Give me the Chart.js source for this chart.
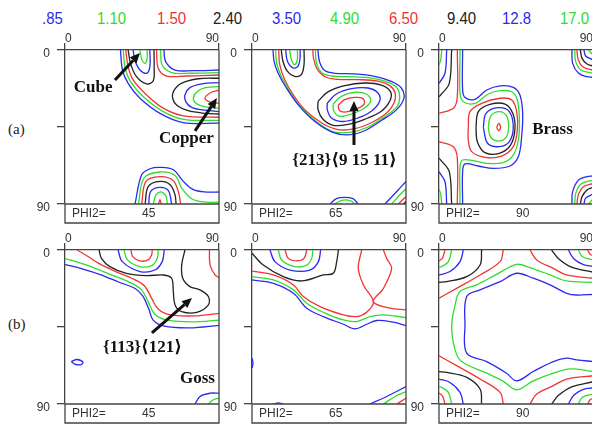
<!DOCTYPE html>
<html>
<head>
<meta charset="utf-8">
<script src="https://cdn.jsdelivr.net/npm/chart.js@4.4.1/dist/chart.umd.min.js"></script>
<style>
  body { margin: 0; background: #fff; }
  #fig { position: relative; width: 592px; height: 425px; overflow: hidden; background: #fff; font-family: "Liberation Sans", Arial, sans-serif; }
  #fig canvas { position: absolute; }
  .lev { position: absolute; top: 10px; font-size: 17px; line-height: 17px; transform: scaleX(0.88); transform-origin: left top; white-space: nowrap; }
  .row { position: absolute; left: 8px; font: 15px/15px "Liberation Serif", serif; color: #222; }
</style>
</head>
<body>
<div id="fig"></div>
<script>
const levels = ['.85', '1.10', '1.50', '2.40', '3.50', '4.90', '6.50', '9.40', '12.8', '17.0'];
const levelColors = ['b', 'g', 'r', 'k', 'b', 'g', 'r', 'k', 'b', 'g'];
const phi2 = [45, 65, 90];
const rows = ['(a)', '(b)'];

// contour lines per section: [colour, [[phi1, PHI], ...]]
const sec45a = [
  ['b', [[32.4,0],[33.6,11.7],[36.9,19.5],[43.8,28.2],[55.5,37],[69.1,42.4],[90,42.8]]],
  ['g', [[34,0],[35.2,10.7],[38.3,18.5],[45.7,27.2],[56.4,35.4],[69.1,40.5],[90,41.2]]],
  ['r', [[35.5,0],[36.9,9.7],[39.8,17.5],[47.7,26.3],[57.4,34],[69.1,38.5],[90,39.3]]],
  ['b', [[57.8,0],[58.8,6.8],[64.3,11.7],[75,12.1],[90,11.7]]],
  ['g', [[55.9,0],[56.8,8.8],[62.3,13.2],[73,13.6],[90,13.2]]],
  ['r', [[53.5,0],[54.5,10.7],[59.4,15.2],[71.1,15.2],[90,14.6]]],
  ['k', [[90,16.5],[78,16.8],[68,19.5],[63.5,24],[63,28.5],[65.5,32.5],[72,35.5],[82,37],[90,37.4]]],
  ['b', [[90,19.1],[80,19.8],[73,22],[70.2,26],[70.5,30],[74,33.5],[82,35.2],[90,36]]],
  ['g', [[90,21.4],[82,22],[77,24.5],[75,28.2],[77,31.5],[82,33.3],[90,34]]],
  ['r', [[90,23.5],[85,25],[81.8,28.2],[85,30.5],[90,31.1]]],
  ['k', [[36.9,0],[38.3,7.8],[41.8,15.6],[47.7,19.8],[51.6,18],[52.1,9.7],[52,0]]],
  ['b', [[39.8,0],[40.8,5.8],[43.8,11.7],[47.7,13.6],[49.6,9.7],[49.6,0]]],
  ['g', [[43.8,0],[44.7,4.9],[46.7,7.8],[48,4.9],[48,0]]],
  ['b', [[40.9,90],[44.8,72.9],[49.7,69.4],[55.5,68.6],[63.3,70],[69.2,76.8],[75,81.6],[82.8,83],[90,83]]],
  ['g', [[42.9,90],[46.2,74.8],[55.5,71.3],[64.3,73.3],[68.2,80.7],[74,86.9],[80.8,88.8],[90,89]]],
  ['r', [[44.8,90],[47.3,76.8],[55.5,74],[62.9,76],[66.2,82.6],[67.6,90]]],
  ['k', [[46.8,90],[48.7,79.7],[55.5,76.8],[61.4,78.7],[64.3,84.6],[64.9,90]]],
  ['b', [[48.9,90],[50.1,82.6],[55.5,80.3],[60.4,82.2],[62.3,90]]],
  ['g', [[51.6,90],[53.2,84.6],[56.5,83],[59,85.5],[59.8,90]]],
  ['r', [[54.7,90],[55.5,87.5],[56.3,90]]]
];

const sec65a = [
  ['b', [[12.3,0],[12.9,6.6],[15.2,13.4],[20.1,22.2],[26.9,31.9],[36.6,41.7],[46.4,47.8],[56.1,49.6],[65.8,47.2],[75.6,41.2],[84.4,35],[88.8,28.1],[87.3,22.2],[81.4,18.3],[71.7,15.4],[60,14],[48.3,13.6],[42.5,12],[39.5,7],[38.5,0]]],
  ['g', [[13.8,0],[14.4,7.6],[17.1,15.4],[22,24.2],[28.8,33.9],[38.6,42.7],[48.3,48],[58.1,48],[67.8,45],[77.5,39],[84.9,33],[86.3,27.1],[84.4,21.8],[78.5,18.5],[67.8,16.2],[56.1,15.6],[46.4,15.2],[41,13.5],[37.8,8],[37,0]]],
  ['r', [[15.6,0],[16.2,8.6],[19.1,17.3],[24,26.1],[30.8,34.9],[40.5,42.5],[50.3,46.5],[60,46],[69.7,42.5],[78.5,37],[83,31],[83.6,25],[80.5,20.8],[73.6,18.2],[62,17.3],[50.3,17.2],[43,15.8],[38,11],[36,5],[35.5,0]]],
  ['k', [[17.1,0],[18.1,6.6],[20.7,12.5],[24.9,15.4],[28.8,14.4],[30.4,8.6],[30.4,0]]],
  ['b', [[19.7,0],[20.7,6.6],[24,10.5],[26.9,9.5],[28.1,4.7],[28.1,0]]],
  ['g', [[22,0],[23,5.6],[24.9,8.6],[26.5,5.6],[26.5,0]]],
  ['k', [[38.6,30],[44.4,24.5],[54.2,20.8],[65.8,19.3],[75.6,20.5],[81,24.5],[80.5,30],[75.6,35.8],[65.8,40.5],[56.1,43.5],[47.3,44],[41.5,40.5],[38.6,34.9],[38.6,30]]],
  ['b', [[44,31],[49.3,25.7],[58.1,22.6],[67.8,22.2],[73.6,25.1],[74.6,30],[69.7,35.8],[62,39.7],[53.2,41.8],[46.4,39.7],[44,34.9],[44,31]]],
  ['g', [[47.3,31.6],[52.2,27.1],[60,24.7],[66.8,25.7],[69.4,29.6],[65.8,33.9],[58.1,37.4],[51.2,38.8],[47.9,35.8],[47.3,31.6]]],
  ['r', [[50.3,32.3],[54.2,29],[60,27.7],[64.9,28.4],[65.5,31.6],[61,34.5],[55.1,36.2],[51.2,35.5],[50.3,32.3]]],
  ['b', [[45.6,90],[49.3,86.9],[54.2,86.1],[59,86.9],[62,90]]],
  ['g', [[47.9,90],[53.2,87.7],[58.1,88.3],[60,90]]],
  ['b', [[77.7,90],[84.6,82.7],[90,76.8]]],
  ['g', [[81.6,90],[86.5,84.6],[90,81.1]]],
  ['r', [[85.5,90],[90,85.6]]],
  ['k', [[88.5,90],[90,88.5]]]
];

const sec90a = [
  ['g', [[1.6,0],[1,5.8],[0,8.8]]],
  ['b', [[4.5,0],[3.5,13.6],[0,19.5]]],
  ['k', [[7.4,0],[6,19.5],[1,26.3],[0,27.3]]],
  ['r', [[10.7,0],[10.7,27.3],[8.4,34.1],[0,37]]],
  ['g', [[1.6,90],[1,84.2],[0,81.2]]],
  ['b', [[4.5,90],[3.5,77],[0,71.1]]],
  ['k', [[7.4,90],[6,71.1],[1,64.3],[0,63.3]]],
  ['r', [[10.7,90],[10.7,63.3],[8.4,56.5],[0,53.6]]],
  ['b', [[13.8,0],[13.8,23.4],[15.2,27.7],[21,28.8],[27.9,23.4],[35.7,21],[43.4,21.8],[47.3,26.3],[48.9,37],[48.3,50.7],[46.4,62.3],[41.5,67.8],[31.8,69.2],[23,67.8],[15.2,66.6],[13.8,71.1],[13.8,90]]],
  ['g', [[12.3,0],[12.3,25.3],[14.2,30.2],[21,31.2],[28.8,25.7],[35.7,23.8],[42.5,24.4],[45.8,29.2],[47,40.9],[46.4,52.6],[43.4,61.4],[37.6,65.8],[27.9,66.2],[20.1,64.7],[13.8,64.3],[12.3,68.2],[12.3,90]]],
  ['r', [[17.1,44.8],[18.1,36],[24.9,31.2],[35.7,28.2],[42.5,29.2],[45.4,36],[45.8,46.8],[43.4,56.5],[36.6,62],[26.9,62.7],[19.1,59.4],[17.1,52.6],[17.1,44.8]]],
  ['k', [[21.6,45.2],[23,36],[29.8,31.8],[38.6,31.6],[43.1,37],[44.4,45.8],[41.9,55.5],[35.3,60.4],[26.9,60],[22.4,53.6],[21.6,45.2]]],
  ['b', [[25.9,45.2],[27.5,37],[34.7,33.7],[41.1,36],[43.4,45.2],[41.1,53.6],[35.3,56.5],[28.4,54.5],[25.9,45.2]]],
  ['g', [[28.8,45.2],[30.2,38.6],[35.3,36],[39.5,38.6],[40.7,45.2],[39.2,51],[34.9,53.2],[30.2,51],[28.8,45.2]]],
  ['r', [[33.7,45.2],[34.9,42.9],[36,45.2],[34.9,47.1],[33.7,45.2]]],
  ['b', [[77.7,0],[78.1,7.8],[81.6,13.6],[86.5,15.6],[90,16]]],
  ['g', [[79.3,0],[79.9,6.8],[83,11.7],[90,13.6]]],
  ['r', [[80.6,0],[81.4,5.8],[84.4,10.1],[90,11.7]]],
  ['k', [[82.6,0],[83.6,4.9],[86.5,8.2],[90,9.4]]],
  ['b', [[84.7,0],[85.7,3.5],[90,5.8]]],
  ['g', [[87.3,0],[90,2.9]]],
  ['b', [[77.7,90],[78.1,82.8],[81.6,75.9],[86.5,74],[90,73.6]]],
  ['g', [[79.3,90],[79.9,83.8],[83,78.3],[90,76]]],
  ['r', [[80.6,90],[81.4,84.8],[84.4,79.9],[90,78]]],
  ['k', [[82.6,90],[83.6,85.7],[86.5,81.8],[90,80.3]]],
  ['b', [[84.7,90],[85.7,86.6],[90,84.2]]],
  ['g', [[87.3,90],[90,87.1]]]
];

const sec45b = [
  ['r', [[38.5,0],[39.6,3.9],[43.8,6.4],[48.6,5.8],[50.6,2.9],[51,0]]],
  ['g', [[34.5,0],[36.5,5.8],[43.8,9.7],[50.6,9.1],[53.9,4.9],[54.5,0]]],
  ['b', [[31,0],[33.5,6.8],[43.8,12.6],[52.5,11.7],[56.8,6.8],[58,0]]],
  ['k', [[19.9,0],[21.3,4.9],[26.2,9.7],[35.9,13.6],[47.7,15],[57.4,14.6],[62.3,16.5],[63.3,24.3],[64.3,32.1],[68.2,36],[77,36.4],[83.8,32.1],[83.8,27.2],[78.9,23.3],[73,21.4],[68.8,16.5],[68.2,8.8],[70.1,0]]],
  ['r', [[7,0],[13,3.5],[20,8],[30,12.8],[39,16.5],[46.5,21],[50.5,28],[54.5,34.5],[61,37.8],[76,38.5],[90,37]]],
  ['g', [[0,5],[7,7],[16,10],[27,14.5],[37,18.5],[44.5,23],[48.5,30],[52.5,37.5],[60,41],[75,42],[90,41]]],
  ['b', [[0,8.5],[10,11],[21,14.5],[32,19],[41,22.5],[45.5,27],[49,34.5],[51.5,41],[58,44.5],[73,45.5],[90,44]]],
  ['r', [[84.4,0],[84.8,8.8],[87.7,14.6],[90,16.1]]],
  ['b', [[3.7,65.2],[7,64],[10.5,65.6],[9,67.1],[5.7,66.7],[3.7,65.2]]],
  ['b', [[76,90],[78.9,85.6],[84.8,83.7],[90,83.7]]],
  ['g', [[83.8,90],[86.7,87.5],[90,86.6]]]
];

const sec65b = [
  ['r', [[19.3,0],[21.2,4.9],[26.1,6.4],[30.4,4.9],[32,0]]],
  ['g', [[15.4,0],[17.3,5.8],[25.1,9.7],[32,8.8],[34.9,4.9],[35.5,0]]],
  ['b', [[10.5,0],[13.4,6.8],[22.2,11.7],[33.9,11.7],[38.8,6.8],[40.1,0]]],
  ['k', [[0,1.9],[6.6,8.8],[18.3,15.6],[29,18.1],[41.7,14.6],[47.5,13.6],[49.5,6.8],[50.5,0]]],
  ['r', [[0,12.3],[12.5,14.6],[24.2,20.4],[30,27.2],[39.7,33.1],[53.4,37.9],[61.2,38.9],[67,36.4],[70.9,30.2],[65.1,20.4],[62.1,10.7],[64.1,0]]],
  ['r', [[76.8,0],[78.7,4.9],[81.6,10.7],[76.8,22.4],[70.9,30.2],[80.7,34],[90,35]]],
  ['g', [[0,15.6],[12.5,17.5],[24.2,23.3],[32,31.1],[41.7,36.4],[53.4,40.9],[61.2,41.8],[69,38.9],[76.8,37.9],[90,39.5]]],
  ['b', [[0,17.5],[12.5,19.5],[24.2,25.3],[32,34],[41.7,38.9],[53.4,43.4],[60.2,46.1],[67,43.4],[72.9,41.2],[82.6,42.2],[90,44.2]]],
  ['b', [[0,63.2],[0.6,66.1],[0,69.1]]],
  ['b', [[12.5,90],[15.4,89.3],[18.3,90]]],
  ['b', [[69,90],[78.7,85.6],[90,79.8]]],
  ['g', [[76.8,90],[83.6,85.6],[90,82.7]]],
  ['r', [[84.6,90],[90,86.6]]]
];

const sec90b = [
  ['r', [[3.5,0],[2.1,4.5],[0,6.4]]],
  ['g', [[7.4,0],[5.5,6.8],[1.6,9.7],[0,10.1]]],
  ['b', [[14.2,0],[12.3,6.8],[6.4,12.6],[0,14.6]]],
  ['k', [[24.9,0],[24,8.8],[16.2,15.6],[4.5,18.5],[0,18.9]]],
  ['r', [[37.6,0],[35.7,6.8],[24,14.6],[10.3,22.4],[0,28.2]]],
  ['r', [[3.5,90],[2.1,85.5],[0,83.6]]],
  ['g', [[7.4,90],[5.5,83.2],[1.6,80.3],[0,79.9]]],
  ['b', [[14.2,90],[12.3,83.2],[6.4,77.4],[0,75.4]]],
  ['k', [[24.9,90],[24,81.2],[16.2,74.4],[4.5,71.5],[0,71.1]]],
  ['r', [[37.6,90],[35.7,83.2],[24,75.4],[10.3,67.6],[0,61.8]]],
  ['r', [[53.2,0],[57.1,5.8],[66.8,10.7],[74.6,14.6],[90,16.5]]],
  ['k', [[65.8,0],[69.7,4.9],[77.5,10],[90,13]]],
  ['b', [[75.6,0],[78.9,5.3],[84.4,8.5],[90,9.5]]],
  ['g', [[81.4,0],[83.8,3.9],[90,5.8]]],
  ['r', [[86.9,0],[88.3,2.5],[90,3.3]]],
  ['r', [[53.2,90],[57.1,84.2],[66.8,79.3],[74.6,75.4],[90,73.5]]],
  ['k', [[65.8,90],[69.7,85.1],[77.5,80],[90,77]]],
  ['b', [[75.6,90],[78.9,84.7],[84.4,81.5],[90,80.5]]],
  ['g', [[81.4,90],[83.8,86.1],[90,84.2]]],
  ['r', [[86.9,90],[88.3,87.5],[90,86.7]]],
  ['g', [[90,18.9],[74.6,18.1],[64.9,14.6],[53.2,10.3],[45.4,8.4],[33.7,14.2],[22,20.4],[12.3,24.3],[9.4,32.1],[7.4,44.7],[9.4,58.4],[13.2,65.2],[27.9,72],[37.6,76.8],[45.4,81.7],[55.1,76.5],[66.8,72],[76.6,69.5],[90,71]]],
  ['b', [[90,25.9],[80.5,26.3],[74.6,25.3],[64.9,20.4],[55.1,16.5],[45.4,13.6],[35.7,18.5],[24,23.3],[16.2,27.2],[15.2,43.8],[16.2,60.3],[27.9,65.2],[39.5,72],[45.4,76.5],[55.1,71],[66.8,65.2],[74.6,63.2],[80.5,64.2],[90,65.2]]]
];

const colors = { b: '#2a2af0', g: '#30dc30', r: '#f03434', k: '#222' };

// layout of the figure (page pixels)
const legendLeft = [42, 97, 157, 213, 272, 330, 389, 447, 502, 560];
const panelLeft = [65, 252, 439];
const panelTop = [50, 250];
const rowLabelTop = [122, 317];
const AXW = 30, AXH = 22, STRIP = 19;

// labels written into the sections, in degrees
const notes = {
  '0-0': [
    { text: 'Cube', at: [16.4, 22.2], from: [29.2, 17.5], to: [43.8, 1.8] },
    { text: 'Copper', at: [71, 52], from: [76, 47.3], to: [88.8, 28.1] }
  ],
  '1-0': [{ text: '{213}\u27E89 15 11\u27E9', at: [54.1, 64.9], from: [59.6, 55.5], to: [59.6, 29.8] }],
  '2-0': [{ text: 'Brass', at: [66.3, 46.8] }],
  '0-1': [
    { text: '{113}\u27E8121\u27E9', at: [45.3, 57.3], from: [50.8, 48.5], to: [74.2, 28.1] },
    { text: 'Goss', at: [77.4, 75.4] }
  ]
};

Chart.defaults.font.family = '"Liberation Sans", Arial, sans-serif';

const fig = document.getElementById('fig');

levels.forEach((t, i) => {
  const s = document.createElement('span');
  s.className = 'lev';
  s.style.left = legendLeft[i] + 'px';
  s.style.color = colors[levelColors[i]];
  s.textContent = t;
  fig.appendChild(s);
});

rows.forEach((t, i) => {
  const s = document.createElement('span');
  s.className = 'row';
  s.style.top = rowLabelTop[i] + 'px';
  s.textContent = t;
  fig.appendChild(s);
});

const drawArrow = (ctx, x0, y0, x1, y1) => {
  const a = Math.atan2(y1 - y0, x1 - x0), head = 10, half = 4.5;
  const bx = x1 - head * Math.cos(a), by = y1 - head * Math.sin(a);
  ctx.lineWidth = 3;
  ctx.beginPath();
  ctx.moveTo(x0, y0);
  ctx.lineTo(bx, by);
  ctx.stroke();
  ctx.beginPath();
  ctx.moveTo(x1, y1);
  ctx.lineTo(bx + half * Math.sin(a), by - half * Math.cos(a));
  ctx.lineTo(bx - half * Math.sin(a), by + half * Math.cos(a));
  ctx.closePath();
  ctx.fill();
};

// closes the box, writes the PHI2 strip and the texture labels
const framePlugin = (angle, marks) => ({
  id: 'frame',
  afterDraw(chart) {
    const { ctx, chartArea: { left, top, right, bottom } } = chart;
    const xs = chart.scales.x, ys = chart.scales.y;
    ctx.save();
    ctx.strokeStyle = '#444';
    ctx.lineWidth = 1.3;
    ctx.beginPath();
    ctx.moveTo(right, top);
    ctx.lineTo(right, bottom + STRIP);
    ctx.lineTo(left, bottom + STRIP);
    ctx.lineTo(left, bottom);
    ctx.lineTo(right, bottom);
    ctx.stroke();

    ctx.fillStyle = '#333';
    ctx.font = '12px "Liberation Sans", Arial, sans-serif';
    ctx.textBaseline = 'middle';
    ctx.textAlign = 'left';
    ctx.fillText('PHI2=', left + 7, bottom + 10);
    ctx.fillText(String(angle), left + 77, bottom + 10);

    ctx.fillStyle = '#111';
    ctx.strokeStyle = '#111';
    ctx.font = 'bold 17px "Liberation Serif", "DejaVu Serif", serif';
    ctx.textAlign = 'center';
    (marks || []).forEach(n => {
      ctx.fillText(n.text, xs.getPixelForValue(n.at[0]), ys.getPixelForValue(n.at[1]));
      if (n.from) {
        drawArrow(ctx, xs.getPixelForValue(n.from[0]), ys.getPixelForValue(n.from[1]),
          xs.getPixelForValue(n.to[0]), ys.getPixelForValue(n.to[1]));
      }
    });
    ctx.restore();
  }
});

const makePanel = (section, col, row) => {
  const canvas = document.createElement('canvas');
  const w = AXW + 154 + 2, h = AXH + 154 + STRIP + 2;
  canvas.width = w;
  canvas.height = h;
  canvas.style.left = (panelLeft[col] - AXW) + 'px';
  canvas.style.top = (panelTop[row] - AXH) + 'px';
  canvas.style.width = w + 'px';
  canvas.style.height = h + 'px';
  fig.appendChild(canvas);

  new Chart(canvas, {
    type: 'scatter',
    data: {
      datasets: section.map(([c, pts]) => ({
        data: pts.map(([x, y]) => ({ x, y })),
        showLine: true,
        borderColor: colors[c],
        borderWidth: 1.3,
        borderJoinStyle: 'round',
        pointRadius: 0,
        tension: 0.35,
        fill: false
      }))
    },
    options: {
      responsive: false,
      animation: false,
      events: [],
      layout: { padding: { left: 0, top: 0, right: 2, bottom: STRIP + 2 } },
      plugins: { legend: { display: false }, tooltip: { enabled: false } },
      scales: {
        x: {
          type: 'linear', position: 'top', min: 0, max: 90,
          afterBuildTicks: s => { s.ticks = [{ value: 0 }, { value: 90 }]; },
          afterFit: s => { s.height = AXH; },
          ticks: { align: 'inner', padding: -3, maxRotation: 0, color: '#333', font: { size: 12 } },
          grid: { drawOnChartArea: false, tickLength: 7, color: '#444', lineWidth: 1.3 },
          border: { display: true, color: '#444', width: 1.3 }
        },
        y: {
          type: 'linear', position: 'left', reverse: true, min: 0, max: 90,
          afterBuildTicks: s => { s.ticks = [0, 45, 90].map(v => ({ value: v })); },
          afterFit: s => { s.width = AXW; },
          ticks: { callback: v => (v === 45 ? '' : v), padding: 7, labelOffset: 4, color: '#333', font: { size: 12 } },
          grid: { drawOnChartArea: false, tickLength: 8, color: '#444', lineWidth: 1.3 },
          border: { display: true, color: '#444', width: 1.3 }
        }
      }
    },
    plugins: [framePlugin(phi2[col], notes[col + '-' + row])]
  });
};

[[sec45a, sec65a, sec90a], [sec45b, sec65b, sec90b]].forEach((secs, row) =>
  secs.forEach((s, col) => makePanel(s, col, row)));
</script>
</body>
</html>
